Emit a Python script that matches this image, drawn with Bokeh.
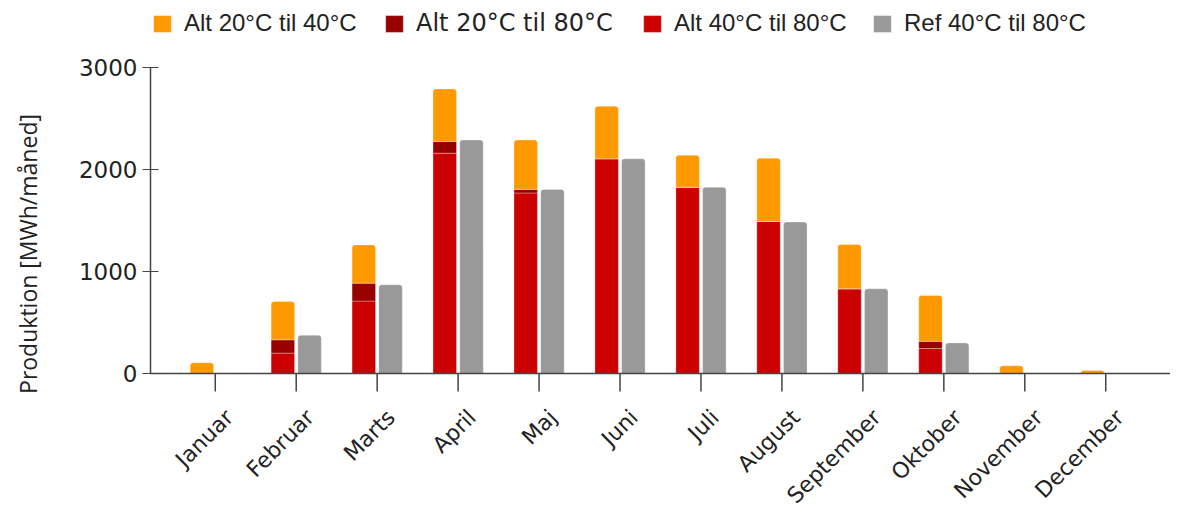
from bokeh.plotting import figure
from bokeh.models import FactorRange, Range1d, Legend, LegendItem, FixedTicker, ColumnDataSource, Span
from bokeh.transform import dodge
from bokeh.core.properties import value
from bokeh.embed import file_html
from bokeh.resources import INLINE
import math

months = ["Januar", "Februar", "Marts", "April", "Maj", "Juni",
          "Juli", "August", "September", "Oktober", "November", "December"]
# segment heights (MWh/måned)
alt_40_80 = [0, 200, 710, 2160, 1770, 2105, 1825, 1490, 830, 245, 0, 0]
alt_20_80_extra = [0, 130, 175, 115, 35, 0, 0, 0, 0, 70, 0, 0]
alt_20_40_extra = [105, 375, 375, 515, 485, 515, 315, 620, 435, 450, 75, 30]
ref_40_80 = [0, 375, 870, 2290, 1805, 2105, 1825, 1485, 830, 300, 0, 0]
y_ticks = [0, 1000, 2000, 3000]

labels = ["Alt 20°C til 40°C", "Alt 20°C til 80°C", "Alt 40°C til 80°C", "Ref 40°C til 80°C"]
colors = ["#FF9900", "#990000", "#CC0000", "#999999"]

b1 = alt_40_80
t1 = [a + b for a, b in zip(b1, alt_20_80_extra)]
t2 = [a + b for a, b in zip(t1, alt_20_40_extra)]

# layout (pixels)
W, H = 1170, 507
LEFT = 150
ZERO_FROM_TOP = 373       # canvas px from top to y=0
PX_PER_UNIT = 306 / 3000  # vertical scale
ymax = ZERO_FROM_TOP / PX_PER_UNIT
ymin = -(H - ZERO_FROM_TOP) / PX_PER_UNIT
tick_len = 18 / PX_PER_UNIT

src = ColumnDataSource(dict(month=months, b0=[0] * 12, b1=b1, t1=t1, t2=t2, ref=ref_40_80,
                            tk=[-tick_len] * 12))

p = figure(width=W, height=H, output_backend="svg", toolbar_location=None,
           x_range=FactorRange(*months, range_padding=0.30, range_padding_units="absolute"),
           y_range=Range1d(ymin, ymax), x_axis_location=None,
           min_border_left=LEFT, min_border_right=0, min_border_top=0, min_border_bottom=0)
p.outline_line_color = None
p.xgrid.grid_line_color = None
p.ygrid.grid_line_color = None
p.background_fill_color = "white"

xa = dodge("month", -0.165, range=p.x_range)
xr = dodge("month", 0.165, range=p.x_range)
w = 0.29
common = dict(line_color="white", line_alpha=0.3, line_width=1, source=src)

r_red = p.vbar(x=xa, bottom="b0", top="b1", width=w, fill_color=colors[2], **common)
r_dark = p.vbar(x=xa, bottom="b1", top="t1", width=w, fill_color=colors[1], **common)
r_or = p.vbar(x=xa, bottom="t1", top="t2", width=w, fill_color=colors[0],
              border_radius=(3, 3, 0, 0), **common)
r_ref = p.vbar(x=xr, bottom="b0", top="ref", width=w, fill_color=colors[3],
               border_radius=(3, 3, 0, 0), **common)

# x axis drawn by hand: baseline, ticks, rotated labels
p.add_layout(Span(location=0, dimension="width", line_color="#444444", line_width=1.5))
p.segment(x0="month", y0="b0", x1="month", y1="tk", line_color="#444444", line_width=1.5, source=src)
p.text(x="month", y="b0", text="month", source=src, angle=math.pi / 4,
       text_align="right", text_baseline="middle", x_offset=14, y_offset=40,
       text_font=value("DejaVu Sans"), text_font_size="22px", text_color="#222222")

ay = p.yaxis[0]
ay.ticker = FixedTicker(ticks=y_ticks)
ay.bounds = (0, 3000)
ay.minor_tick_line_color = None
ay.axis_line_color = "#444444"
ay.axis_line_width = 1.5
ay.major_tick_line_color = "#444444"
ay.major_tick_in = 8
ay.major_tick_out = 8
ay.major_label_text_font = "DejaVu Sans"
ay.major_label_text_font_size = "23px"
ay.major_label_text_color = "#222222"
ay.major_label_standoff = 5
ay.axis_label = "Produktion [MWh/måned]"
ay.axis_label_text_font = "Open Sans"
ay.axis_label_text_font_size = "23px"
ay.axis_label_text_font_style = "normal"
ay.axis_label_text_color = "#222222"
ay.axis_label_standoff = 32

# legends, one per item, placed in the empty top part of the frame
leg_specs = [
    (labels[0], [r_or], 1, "Liberation Sans"),
    (labels[1], [r_dark], 233, "DejaVu Sans"),
    (labels[2], [r_red], 491, "Liberation Sans"),
    (labels[3], [r_ref], 721, "Liberation Sans"),
]
for lab, rend, vx, font in leg_specs:
    leg = Legend(items=[LegendItem(label=lab, renderers=rend)], location=(vx, 470),
                 orientation="horizontal", padding=0, margin=0,
                 border_line_alpha=0, background_fill_alpha=0,
                 glyph_width=22, glyph_height=21, label_standoff=11,
                 label_text_font=font, label_text_font_size="24px",
                 label_text_color="#222222")
    p.add_layout(leg, "center")

open("out.html", "w").write(file_html(p, INLINE))
